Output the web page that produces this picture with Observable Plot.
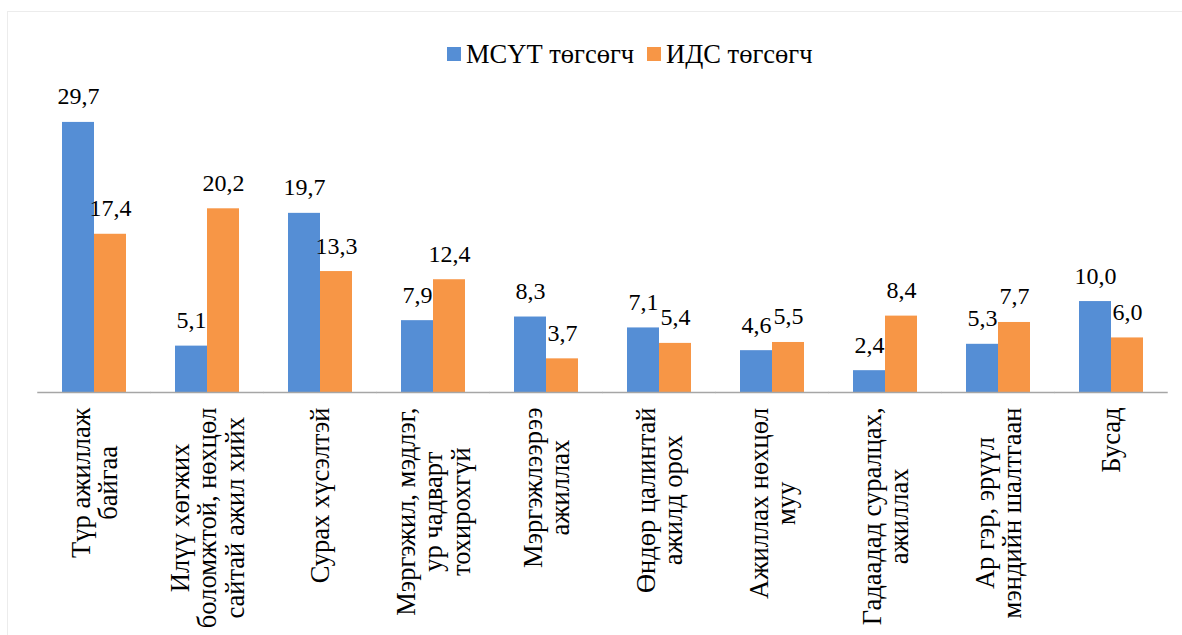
<!DOCTYPE html>
<html>
<head>
<meta charset="utf-8">
<script src="https://cdn.jsdelivr.net/npm/d3@7"></script>
<script src="https://cdn.jsdelivr.net/npm/@observablehq/plot@0.6"></script>
<style>
  body { margin: 0; background: #fff; font-family: "Liberation Serif", "Times New Roman", serif; }
  #wrap { position: relative; width: 1182px; height: 635px; overflow: hidden; }
  #border { position: absolute; left: 7px; top: 11px; right: -4px; bottom: -4px;
            border-left: 1.5px solid #ececec; border-top: 1.5px solid #ececec; }
  #legend { position: absolute; top: 38px; left: 447px; height: 32px; display: flex; align-items: center;
            font-size: 26.5px; white-space: nowrap; color: #000; }
  .item { display: flex; align-items: center; margin-right: 13px; }
  .sw { width: 14px; height: 14px; margin-right: 5px; }
  #chart { position: absolute; top: 80px; left: 0; }
</style>
</head>
<body>
<div id="wrap">
  <div id="border"></div>
  <div id="legend"></div>
  <div id="chart"></div>
</div>
<script>
const categories = [
  "Түр ажиллаж\nбайгаа",
  "Илүү хөгжих\nболомжтой, нөхцөл\nсайтай ажил хийх",
  "Сурах хүсэлтэй",
  "Мэргэжил, мэдлэг,\nур чадварт\nтохирохгүй",
  "Мэргэжлээрээ\nажиллах",
  "Өндөр цалинтай\nажилд орох",
  "Ажиллах нөхцөл\nмуу",
  "Гадаадад суралцах,\nажиллах",
  "Ар гэр, эрүүл\nмэндийн шалтгаан",
  "Бусад"
];
const seriesNames = ["МСҮТ төгсөгч", "ИДС төгсөгч"];
const mcytValues = [29.7, 5.1, 19.7, 7.9, 8.3, 7.1, 4.6, 2.4, 5.3, 10.0];
const idsValues  = [17.4, 20.2, 13.3, 12.4, 3.7, 5.4, 5.5, 8.4, 7.7, 6.0];
const seriesColors = ["#558ED5", "#F79646"];

const rows = [];
categories.forEach((c, i) => {
  rows.push({cat: c, series: seriesNames[0], value: mcytValues[i]});
  rows.push({cat: c, series: seriesNames[1], value: idsValues[i]});
});
const fmt = v => v.toFixed(1).replace(".", ",");

// legend
const legend = document.getElementById("legend");
seriesNames.forEach((s, i) => {
  const item = document.createElement("div");
  item.className = "item";
  const sw = document.createElement("div");
  sw.className = "sw";
  sw.style.background = seriesColors[i];
  const lab = document.createElement("span");
  lab.textContent = s;
  item.append(sw, lab);
  legend.append(item);
});

const W = 1182, ML = 35, MR = 12;
const padIn = 0.436, padOut = 0.218;
// half of the gap between groups, so the baseline runs continuously across all groups
const fxStep = (W - ML - MR) / (categories.length - padIn + 2 * padOut);
const ruleExt = -(fxStep * padIn) / 2;

const plot = Plot.plot({
  width: W,
  height: 555,
  marginLeft: ML,
  marginRight: MR,
  marginTop: 21,
  marginBottom: 243,
  style: {fontFamily: '"Liberation Serif", "Times New Roman", serif', fontSize: "24px", background: "transparent", color: "#000", overflow: "visible"},
  fx: {domain: categories, paddingInner: padIn, paddingOuter: padOut, label: null},
  x: {domain: seriesNames, padding: 0, axis: null},
  y: {domain: [0, 32], axis: null},
  color: {domain: seriesNames, range: seriesColors},
  marks: [
    Plot.barY(rows, {fx: "cat", x: "series", y: "value", fill: "series"}),
    Plot.text(rows, {fx: "cat", x: "series", y: "value", text: d => fmt(d.value), lineAnchor: "bottom", dy: -18, fontSize: 24, fill: "#000"}),
    Plot.ruleY([0], {stroke: "#a6a6a6", strokeWidth: 1.5, insetLeft: ruleExt, insetRight: ruleExt}),
    Plot.axisFx({anchor: "bottom", tickSize: 0, tickPadding: 15, tickRotate: -90, textAnchor: "end", lineAnchor: "middle", lineHeight: 1.03, fontSize: 26.5, label: null, fill: "#000"})
  ]
});
document.getElementById("chart").append(plot);

// center-align the lines of each multi-line category label (as in the original)
plot.querySelectorAll('g[aria-label^="fx-axis"] text').forEach(t => {
  const w = t.getBBox().width;
  t.setAttribute("text-anchor", "middle");
  t.setAttribute("transform", (t.getAttribute("transform") || "") + ` translate(${-w / 2},0)`);
});
</script>
</body>
</html>
